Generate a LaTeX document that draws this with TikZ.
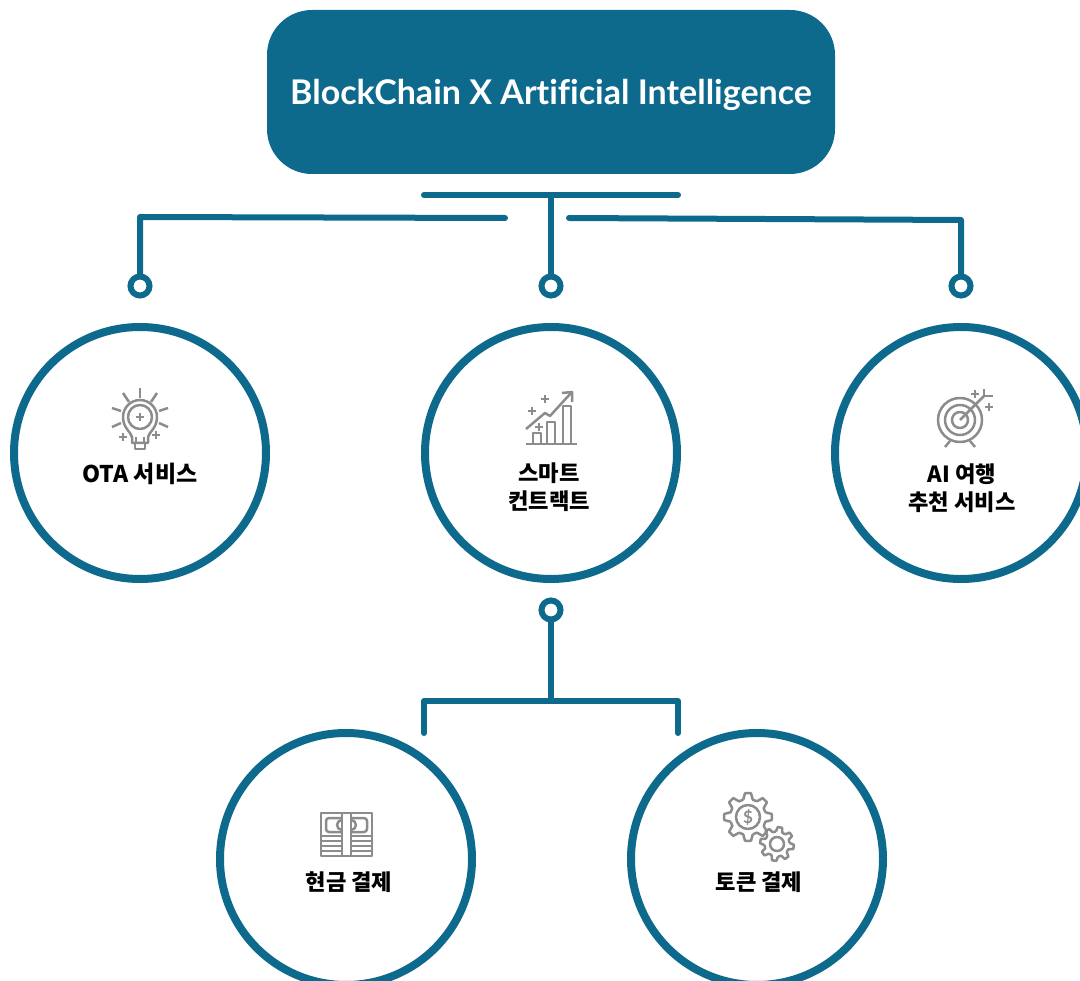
\documentclass[tikz,border=0pt]{standalone}
\usepackage{fontspec}
\setmainfont[Ligatures=NoCommon]{Lato}
\newfontfamily\krfont{Noto Sans CJK KR}
\definecolor{teal1}{HTML}{0E6A8C}
\definecolor{icon1}{HTML}{8C8C8C}
\tikzset{
  x=1pt,y=-1pt,
  bigc/.style={circle,draw=teal1,line width=8pt,minimum size=252pt,inner sep=0pt},
  smallc/.style={circle,draw=teal1,line width=6pt,minimum size=19pt,inner sep=0pt,fill=white},
  conn/.style={draw=teal1,line width=6pt,line cap=round,line join=round},
  lab/.style={font=\krfont\bfseries\fontsize{22.2}{28}\selectfont,align=center,inner sep=0pt,text=black},
  ic/.style={draw=icon1,line width=2.5pt,line join=round},
  titlebox/.style={rounded corners=45pt,fill=teal1,minimum width=568pt,minimum height=164pt,inner sep=0pt,text=white,font=\bfseries\fontsize{34}{40}\selectfont}
}
\newcommand{\plusmark}[2]{\draw[ic] (#1-4,#2)--(#1+4,#2) (#1,#2-4)--(#1,#2+4);}
\begin{document}
\begin{tikzpicture}
\useasboundingbox (0,0) rectangle (1080,981);
\begin{scope}
\clip (0,0) rectangle (1080,981);
\node[titlebox] (top) at (551,92) {\raisebox{-13pt}[0pt][0pt]{BlockChain X Artificial Intelligence}};
\node[bigc] (c1) at (140,453) {};
\node[bigc] (c2) at (551,453) {};
\node[bigc] (c3) at (961,453) {};
\node[bigc] (c4) at (346,859) {};
\node[bigc] (c5) at (757,859) {};
\end{scope}
% connectors
\coordinate (barL) at (424,195);
\coordinate (barR) at (678,195);
\coordinate (barM) at (551,195);
\coordinate (lE) at (505,218);
\coordinate (lC) at (140,217);
\coordinate (rE) at (569,218);
\coordinate (rC) at (961,220);
\node[smallc] (s1) at (140,286) {};
\node[smallc] (s2) at (551,286) {};
\node[smallc] (s3) at (961,286) {};
\node[smallc] (s4) at (551,610) {};
\draw[conn] (barL)--(barR);
\draw[conn] (barM)--(s2.north);
\draw[conn] (lE)--(lC)--(s1.north);
\draw[conn] (rE)--(rC)--(s3.north);
\coordinate (lowM) at (551,701);
\coordinate (lowL) at (424,701);
\coordinate (lowR) at (678,701);
\coordinate (lowLE) at (424,733);
\coordinate (lowRE) at (678,733);
\draw[conn] (s4.south)--(lowM);
\draw[conn] (lowLE)--(lowL)--(lowR)--(lowRE);
% labels
\node[lab,font=\krfont\bfseries\fontsize{23}{28}\selectfont] (t1) at (140,474) {OTA 서비스};
\node[lab] (t2) at (549,487) {스마트\\컨트랙트};
\node[lab] (t3) at (962,488) {AI 여행\\추천 서비스};
\node[lab] (t4) at (349,882) {현금 결제};
\node[lab] (t5) at (759,882) {토큰 결제};
% bulb icon
\draw[ic] (140,417) circle (12);
\draw[ic] (132,437) .. controls (131,432) and (123,428) .. (123,417) arc[start angle=180,end angle=360,radius=17] .. controls (157,428) and (149,432) .. (148,437) -- (148,443) -- (132,443) -- cycle;
\draw[ic] (135,443)--(135,449)--(145,449)--(145,443);
\draw[ic] (136,437)--(136,443) (144,437)--(144,443);
\draw[ic] (140,388)--(140,398);
\draw[ic] (123,393)--(129,402) (157,393)--(151,402);
\draw[ic] (112,408)--(121,411) (168,408)--(159,411);
\draw[ic] (112,427)--(121,423) (168,427)--(159,423);
\draw[ic] (136,417)--(144,417) (140,413)--(140,421);
\plusmark{123}{437}
\plusmark{156}{435}
% chart icon
\draw[ic] (526,444)--(577,444);
\draw[ic] (533,444)--(533,433)--(541,433)--(541,444);
\draw[ic] (547,444)--(547,422)--(555,422)--(555,444);
\draw[ic] (563,444)--(563,406)--(571,406)--(571,444);
\draw[ic] (526,429)--(545,413)--(550,416)--(571,393);
\draw[ic] (562,393)--(572,392)--(572,402);
\plusmark{545}{399}
\plusmark{532}{411}
\plusmark{539}{427}
% target icon
\draw[ic] (960,420) circle (22);
\draw[ic] (960,420) circle (15);
\draw[ic] (960,420) circle (8);
\draw[ic] (960,420)--(984,396);
\draw[ic] (984,396)--(984,389) (984,396)--(993,396);
\draw[ic] (950,441)--(945,447) (970,441)--(975,447);
\plusmark{975}{394}
\plusmark{989}{407}
% cash icon
\draw[ic] (321,813) rectangle (372,856);
\draw[ic] (321,836)--(372,836) (321,841)--(372,841) (321,846)--(372,846) (321,851)--(372,851);
\draw[ic,rounded corners=3pt] (326,818) rectangle (367,832);
\draw[ic,fill=white] (342,813) rectangle (351,856);
\draw[ic] (342,820) arc[start angle=270,end angle=90,radius=5];
\draw[ic] (351,820) arc[start angle=270,end angle=450,radius=5];
% gear icons
\foreach \cx/\cy/\ro/\ri/\n/\rot in {748/817/24/18/8/0,777/844/17/12.5/8/10}{
  \foreach \k in {1,...,\n}{
    \pgfmathsetmacro{\st}{360/\n}
    \pgfmathsetmacro{\a}{\rot+(\k-1)*\st}
    \pgfmathsetmacro{\aa}{\a-0.34*\st}
    \pgfmathsetmacro{\ab}{\a-0.16*\st}
    \pgfmathsetmacro{\ac}{\a+0.16*\st}
    \pgfmathsetmacro{\ad}{\a+0.34*\st}
    \pgfmathsetmacro{\ae}{\a+0.66*\st}
    \draw[ic] ({\cx+\ri*cos(\aa)},{\cy+\ri*sin(\aa)})--({\cx+\ro*cos(\ab)},{\cy+\ro*sin(\ab)})--({\cx+\ro*cos(\ac)},{\cy+\ro*sin(\ac)})--({\cx+\ri*cos(\ad)},{\cy+\ri*sin(\ad)})--({\cx+\ri*cos(\ae)},{\cy+\ri*sin(\ae)});
  }
}
\draw[ic] (748,817) circle (12);
\draw[ic] (777,844) circle (7);
\node[text=icon1,inner sep=0pt,font=\bfseries\fontsize{17}{17}\selectfont] (dollar) at (748,817) {\$};
\end{tikzpicture}
\end{document}
